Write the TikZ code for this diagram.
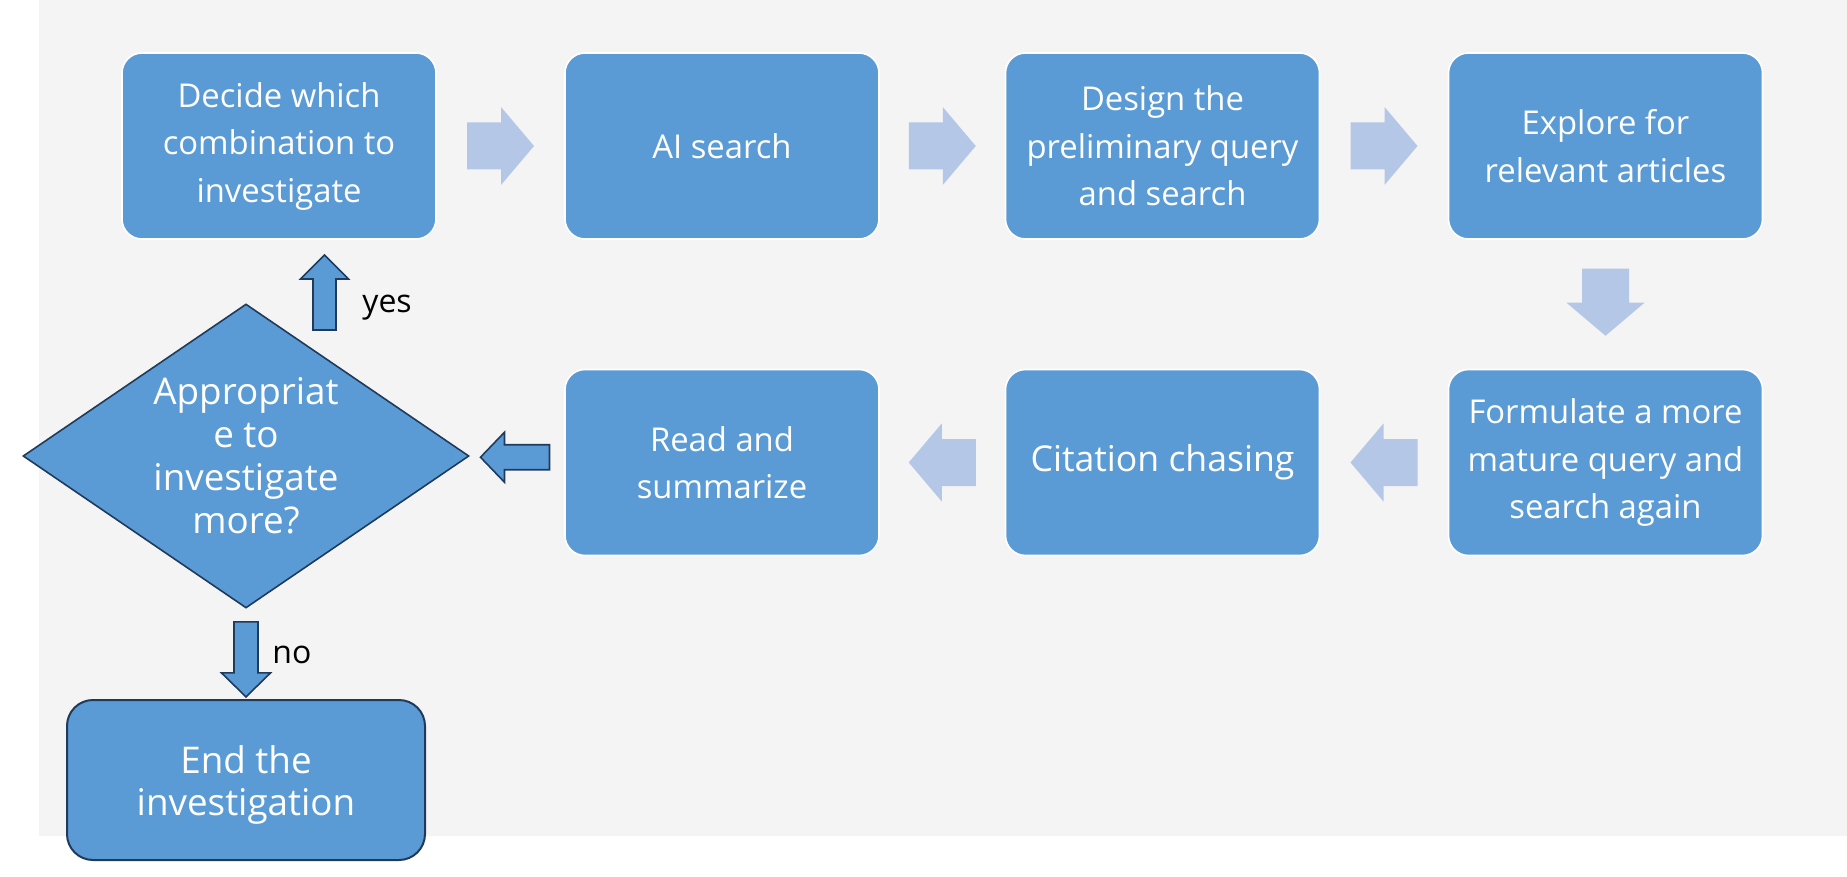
\documentclass[tikz,border=0pt]{standalone}
\usepackage{fontspec}
\setmainfont{Open Sans}
\usetikzlibrary{shapes.geometric,calc}

\definecolor{boxblue}{HTML}{5B9BD5}
\definecolor{lightarrow}{HTML}{B4C7E7}
\definecolor{panel}{HTML}{F4F4F4}
\definecolor{navy}{HTML}{203A5C}

\tikzset{
  stepbox/.style={rectangle, rounded corners=10pt, fill=boxblue, draw=white,
    line width=0.8pt, minimum width=157pt, minimum height=93pt, inner sep=0pt,
    text=white, align=center, font=\fontsize{16.4}{23.75}\selectfont},
  endbox/.style={rectangle, rounded corners=13pt, fill=boxblue, draw=navy,
    line width=1pt, minimum width=179pt, minimum height=80pt, inner sep=0pt,
    text=white, align=center, font=\fontsize{18.4}{21}\selectfont},
  decision/.style={diamond, fill=boxblue, draw=navy, line width=0.8pt,
    minimum width=223pt, minimum height=152pt, inner sep=0pt},
  decisiontext/.style={text=white, align=center, inner sep=0pt,
    font=\fontsize{18.4}{21.5}\selectfont},
  flowarrow/.style={fill=lightarrow},
  choicearrow/.style={fill=boxblue, draw=navy, line width=0.8pt, line join=miter},
  answer/.style={font=\fontsize{16}{19}\selectfont, text=black, inner sep=0pt,
    anchor=base west}
}

% block arrow: style, centre, angle, half length, head length, shaft half width, head half width
\newcommand\blockarrow[7]{%
  \begin{scope}[shift={#2}, rotate=#3]
    \path[#1] (-#4,-#6) -- (#4-#5,-#6) -- (#4-#5,-#7) -- (#4,0)
      -- (#4-#5,#7) -- (#4-#5,#6) -- (-#4,#6) -- cycle;
  \end{scope}}

\begin{document}
\begin{tikzpicture}[x=0.5pt, y=-0.5pt]
  \useasboundingbox (0,0) rectangle (1847,877);
  \fill[panel] (39,0) rectangle (1847,836);

  % process steps
  \node[stepbox] (b1) at (279,146)    {Decide which\\combination to\\investigate};
  \node[stepbox] (b2) at (722,146)    {AI search};
  \node[stepbox] (b3) at (1162.5,146) {Design the\\preliminary query\\and search};
  \node[stepbox] (b4) at (1605.5,146) {Explore for\\relevant articles};
  \node[stepbox] (r3) at (1605.5,462.5) {Formulate a more\\mature query and\\search again};
  \node[stepbox, font=\fontsize{17.8}{23.75}\selectfont] (r2) at (1162.5,462.5) {Citation chasing};
  \node[stepbox] (r1) at (722,462.5)  {Read and\\summarize};

  % decision and end
  \node[decision] (d) at (246,456) {};
  \node[decisiontext] (dq) at (d.center) {Appropriat\\e to\\investigate\\more?};
  \node[endbox] (e) at (246,780) {};
  \node[endbox, draw=none, fill=none, minimum width=0pt, minimum height=0pt]
    (et) at ($(e.center)+(0,5)$) {End the\\investigation};

  % flow arrows
  \blockarrow{flowarrow}{($(b1.east)!0.5!(b2.west)$)}{0}{33.5}{33}{23.5}{39}
  \blockarrow{flowarrow}{($(b2.east)!0.5!(b3.west)$)}{0}{33.5}{33}{23.5}{39}
  \blockarrow{flowarrow}{($(b3.east)!0.5!(b4.west)$)}{0}{33.5}{33}{23.5}{39}
  \blockarrow{flowarrow}{($(b4.south)!0.5!(r3.north)+(0,-2)$)}{-90}{33.5}{33}{23.5}{39}
  \blockarrow{flowarrow}{($(r3.west)!0.5!(r2.east)$)}{180}{33.5}{33}{23.5}{39}
  \blockarrow{flowarrow}{($(r2.west)!0.5!(r1.east)$)}{180}{33.5}{33}{23.5}{39}

  % decision arrows
  \blockarrow{choicearrow}{($(r1.west)!0.5!(d.east)+(-2,-2)$)}{180}{34.5}{24}{12.5}{25}
  \blockarrow{choicearrow}{($(b1.south)!0.5!(d.north)+(62,21)$)}{90}{37.5}{24}{11.5}{24}
  \blockarrow{choicearrow}{($(d.south)!0.5!(e.north)+(0,5.5)$)}{-90}{37.5}{24}{12}{24.5}

  \node[answer] (yes) at (362,313) {yes};
  \node[answer] (no) at (272,663) {no};
\end{tikzpicture}
\end{document}
